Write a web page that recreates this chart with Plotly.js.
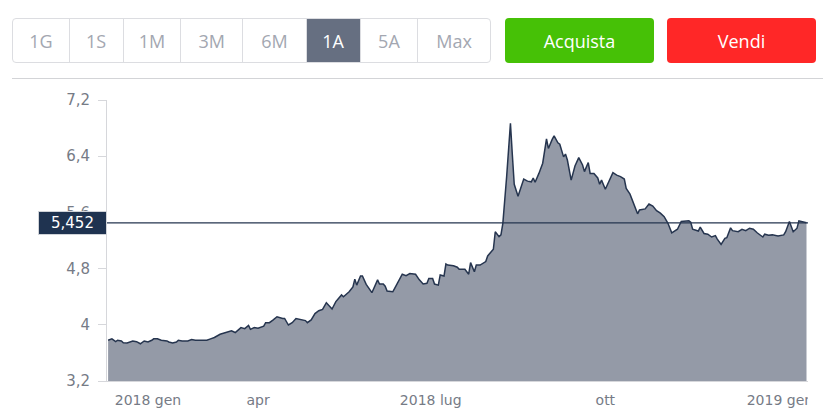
<!DOCTYPE html>
<html><head><meta charset="utf-8">
<script src="https://cdn.plot.ly/plotly-3.0.1.min.js"></script>
<style>
html,body{margin:0;padding:0;background:#fff}
body{width:823px;height:413px;overflow:hidden;position:relative;font-family:'Open Sans',Lato,sans-serif}
#chart{position:absolute;left:0;top:0;width:808px;height:413px;overflow:hidden}
.grp{position:absolute;left:12px;top:18px;height:45px;width:479px;border:1px solid #dcdde1;border-radius:4px;display:flex;box-sizing:border-box;overflow:hidden;z-index:5;background:#fff}
.cell{height:100%;display:flex;align-items:center;justify-content:center;color:#a3a7b1;font-size:18px;box-sizing:border-box;border-left:1px solid #dcdde1}
.cell:first-child{border-left:none}
.cell.sel{background:#666f81;color:#fff}
.btn{position:absolute;top:18px;height:45px;width:149px;border-radius:4px;color:#fff;font-size:18px;display:flex;align-items:center;justify-content:center;z-index:5}
.sep{position:absolute;left:12px;top:78px;width:811px;height:1px;background:#d3d4d7;z-index:5}
</style>
</head><body>
<div id="chart"></div>
<div class="grp">
  <div class="cell" style="width:56px">1G</div>
  <div class="cell" style="width:54px">1S</div>
  <div class="cell" style="width:58px">1M</div>
  <div class="cell" style="width:62px">3M</div>
  <div class="cell" style="width:64px">6M</div>
  <div class="cell sel" style="width:54px">1A</div>
  <div class="cell" style="width:58px">5A</div>
  <div class="cell" style="width:73px">Max</div>
</div>
<div class="btn" style="left:505px;background:#46c106">Acquista</div>
<div class="btn" style="left:667px;background:#ff2727">Vendi</div>
<div class="sep"></div>
<script>
const dates = [
'2018-01-12','2018-01-14','2018-01-16','2018-01-17','2018-01-19','2018-01-20','2018-01-22','2018-01-25','2018-01-27','2018-01-29','2018-01-31',
'2018-02-02','2018-02-04','2018-02-05','2018-02-07','2018-02-09','2018-02-12','2018-02-13','2018-02-15','2018-02-17','2018-02-18','2018-02-20','2018-02-23','2018-02-25','2018-02-27',
'2018-03-02','2018-03-05','2018-03-07','2018-03-09','2018-03-12','2018-03-14','2018-03-17','2018-03-18','2018-03-20','2018-03-23','2018-03-25','2018-03-27','2018-03-28','2018-03-30',
'2018-04-01','2018-04-04','2018-04-05','2018-04-07','2018-04-09','2018-04-11','2018-04-14','2018-04-15','2018-04-17','2018-04-19','2018-04-21','2018-04-24','2018-04-26','2018-04-27','2018-04-29',
'2018-05-01','2018-05-03','2018-05-05','2018-05-07','2018-05-10','2018-05-12','2018-05-15','2018-05-16','2018-05-19','2018-05-21','2018-05-22','2018-05-23','2018-05-25','2018-05-26','2018-05-28','2018-05-29','2018-05-31',
'2018-06-03','2018-06-04','2018-06-06','2018-06-07','2018-06-08','2018-06-11','2018-06-12','2018-06-14','2018-06-16','2018-06-18','2018-06-20','2018-06-23','2018-06-25','2018-06-27','2018-06-29','2018-06-30',
'2018-07-02','2018-07-03','2018-07-05','2018-07-06','2018-07-08','2018-07-09','2018-07-10','2018-07-13','2018-07-15','2018-07-16','2018-07-19','2018-07-21','2018-07-22','2018-07-24','2018-07-25','2018-07-27','2018-07-30','2018-07-31',
'2018-08-02','2018-08-03','2018-08-04','2018-08-06','2018-08-07','2018-08-08','2018-08-10','2018-08-12','2018-08-13','2018-08-14','2018-08-16','2018-08-18','2018-08-19','2018-08-21','2018-08-23','2018-08-24','2018-08-25','2018-08-27','2018-08-29','2018-08-31',
'2018-09-01','2018-09-03','2018-09-04','2018-09-06','2018-09-07','2018-09-09','2018-09-10','2018-09-11','2018-09-13','2018-09-15','2018-09-17','2018-09-19','2018-09-20','2018-09-22','2018-09-23','2018-09-25','2018-09-27','2018-09-28','2018-09-29',
'2018-10-01','2018-10-02','2018-10-05','2018-10-07','2018-10-09','2018-10-11','2018-10-12','2018-10-14','2018-10-16','2018-10-18','2018-10-19','2018-10-22','2018-10-24','2018-10-26','2018-10-28','2018-10-30',
'2018-11-01','2018-11-03','2018-11-05','2018-11-07','2018-11-08','2018-11-10','2018-11-12','2018-11-14','2018-11-15','2018-11-16','2018-11-19','2018-11-20','2018-11-22','2018-11-24','2018-11-26','2018-11-28','2018-11-29',
'2018-12-01','2018-12-03','2018-12-04','2018-12-06','2018-12-07','2018-12-10','2018-12-12','2018-12-14','2018-12-16','2018-12-18','2018-12-20','2018-12-23','2018-12-24','2018-12-26','2018-12-28','2018-12-31',
'2019-01-03','2019-01-04','2019-01-06','2019-01-08','2019-01-10','2019-01-11','2019-01-13','2019-01-15'
];
const prices = [
3.78,3.80,3.76,3.78,3.77,3.745,3.74,3.77,3.76,3.73,3.77,
3.755,3.78,3.80,3.80,3.78,3.77,3.755,3.74,3.755,3.78,3.77,3.77,3.79,3.78,
3.78,3.78,3.80,3.82,3.865,3.88,3.91,3.915,3.89,3.96,3.945,3.99,3.935,3.96,
3.95,3.98,4.03,4.03,4.07,4.115,4.09,4.09,3.997,4.03,4.09,4.07,4.06,4.03,4.07,
4.16,4.20,4.22,4.315,4.225,4.33,4.425,4.40,4.47,4.54,4.65,4.565,4.695,4.695,4.575,4.54,4.457,
4.64,4.58,4.58,4.55,4.48,4.47,4.52,4.61,4.72,4.70,4.73,4.72,4.64,4.58,4.59,4.66,
4.66,4.58,4.565,4.71,4.695,4.865,4.85,4.84,4.82,4.79,4.79,4.72,4.885,4.755,4.85,4.85,4.90,4.98,
5.055,5.075,5.325,5.255,5.28,5.445,6.11,6.87,6.42,6.00,5.83,6.01,6.075,6.045,6.035,6.09,6.03,6.155,6.30,6.645,
6.51,6.64,6.69,6.59,6.57,6.39,6.43,6.346,6.06,6.26,6.38,6.275,6.18,6.31,6.155,6.155,6.09,6.00,6.06,
5.93,5.99,6.165,6.13,6.11,6.075,5.94,5.86,5.73,5.58,5.635,5.65,5.72,5.69,5.625,5.59,
5.54,5.445,5.31,5.35,5.36,5.47,5.47,5.48,5.46,5.36,5.335,5.39,5.30,5.29,5.25,5.27,5.22,
5.145,5.23,5.24,5.38,5.34,5.325,5.36,5.34,5.375,5.36,5.31,5.25,5.29,5.275,5.28,5.265,
5.28,5.325,5.47,5.325,5.375,5.48,5.47,5.452
];
const xTickDates = ['2018-02-02','2018-04-01','2018-07-01','2018-10-01','2019-01-01'];
const xTickLabels = ['2018 gen','apr','2018 lug','ott','2019 gen'];
const yTickVals = [3.2,4,4.8,5.6,6.4,7.2];
const yTickLabels = ['3,2','4','4,8','5,6','6,4','7,2'];

const lastPrice = prices[prices.length-1];
const lastLabel = lastPrice.toFixed(3).replace('.', ',');

const trace = {
  x: dates, y: prices, type: 'scatter', mode: 'lines',
  fill: 'tozeroy', fillcolor: '#949aa7',
  line: {color: '#26354f', width: 1.5},
  hoverinfo: 'skip'
};
const tickFont = {family: 'DejaVu Sans, Verdana, sans-serif', size: 14, color: '#767b86'};
const layout = {
  width: 808, height: 413,
  margin: {l: 107, r: 0, t: 100, b: 32, pad: 0},
  paper_bgcolor: 'rgba(0,0,0,0)', plot_bgcolor: '#fff',
  showlegend: false,
  xaxis: {
    type: 'date', range: ['2018-01-11 10:00', '2019-01-15 19:00'],
    tickmode: 'array', tickvals: xTickDates, ticktext: xTickLabels,
    showgrid: false, zeroline: false, ticks: '',
    showline: true, linecolor: '#d6d7db', linewidth: 1,
    tickfont: tickFont, ticklabelstandoff: 6, ticklabeloverflow: 'allow'
  },
  yaxis: {
    range: [3.2, 7.2], tickmode: 'array', tickvals: yTickVals, ticktext: yTickLabels,
    showgrid: false, zeroline: false,
    ticks: 'outside', ticklen: 8, tickcolor: '#d6d7db', tickwidth: 1,
    showline: true, linecolor: '#d6d7db', linewidth: 1,
    tickfont: Object.assign({}, tickFont, {size: 15}), ticklabelstandoff: 5
  },
  shapes: [{
    type: 'line', xref: 'paper', x0: 0, x1: 1, yref: 'y', y0: lastPrice, y1: lastPrice,
    line: {color: '#24344f', width: 1.3}, layer: 'above'
  }],
  annotations: [{
    xref: 'paper', x: 0, xanchor: 'right', xshift: 0,
    yref: 'y', y: lastPrice, yanchor: 'middle',
    text: lastLabel, showarrow: false,
    font: {family: 'DejaVu Sans, Verdana, sans-serif', size: 15, color: '#ffffff'},
    bgcolor: '#1f3350', bordercolor: '#d0d3d8', borderwidth: 1,
    width: 65, height: 20, borderpad: 1, align: 'center'
  }]
};
Plotly.newPlot('chart', [trace], layout, {displayModeBar: false, staticPlot: true});
</script>
</body></html>
